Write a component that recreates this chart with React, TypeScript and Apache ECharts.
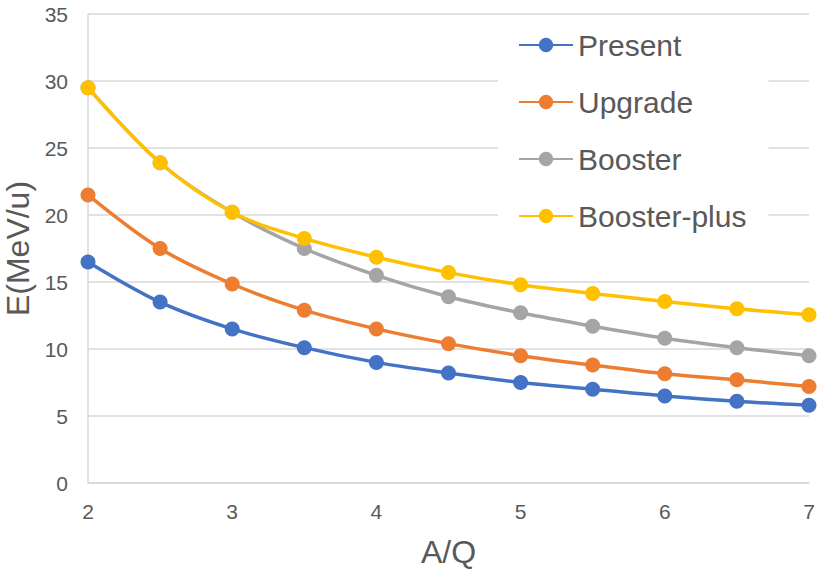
import React, { useEffect, useRef } from "react";
import * as echarts from "echarts";

const xValues = [2, 2.5, 3, 3.5, 4, 4.5, 5, 5.5, 6, 6.5, 7];
const present = [16.5, 13.5, 11.5, 10.1, 9.0, 8.2, 7.5, 7.0, 6.5, 6.1, 5.8];
const upgrade = [21.5, 17.5, 14.85, 12.9, 11.5, 10.4, 9.5, 8.8, 8.15, 7.7, 7.2];
const booster = [29.5, 23.9, 20.2, 17.5, 15.5, 13.9, 12.7, 11.7, 10.8, 10.1, 9.5];
const boosterPlus = [29.5, 23.9, 20.2, 18.25, 16.85, 15.7, 14.8, 14.15, 13.55, 13.0, 12.55];

const seriesNames = ["Present", "Upgrade", "Booster", "Booster-plus"];
const seriesColors = ["#4472C4", "#ED7D31", "#A5A5A5", "#FFC000"];
const seriesValues = [present, upgrade, booster, boosterPlus];

const FONT = "'Liberation Sans', Arial, sans-serif";

export default function App() {
  const ref = useRef<HTMLDivElement>(null);
  useEffect(() => {
    if (!ref.current) return;
    const chart = echarts.init(ref.current, undefined, { renderer: "svg" });
    chart.setOption({
      animation: false,
      backgroundColor: "#ffffff",
      textStyle: { fontFamily: FONT },
      grid: { left: 88, right: 11, top: 14, bottom: 94, containLabel: false, outerBoundsMode: "none" },
      legend: {
        data: seriesNames,
        orient: "vertical",
        left: 498,
        top: 20,
        padding: [10, 22, 10, 20],
        backgroundColor: "#ffffff",
        itemWidth: 54,
        itemHeight: 18,
        itemGap: 27,
        textStyle: { fontSize: 30, color: "#595959", fontFamily: FONT, lineHeight: 30, padding: [0, 0, 0, 0] },
      },
      xAxis: {
        type: "value",
        min: 2,
        max: 7,
        interval: 1,
        name: "A/Q",
        nameLocation: "middle",
        nameGap: 53,
        nameTextStyle: { fontSize: 32, color: "#595959", fontFamily: FONT },
        axisLine: { show: true, lineStyle: { color: "#D9D9D9", width: 1.5 } },
        axisTick: { show: false },
        axisLabel: { fontSize: 21, color: "#595959", margin: 18, fontFamily: FONT },
        splitLine: { show: false },
      },
      yAxis: {
        type: "value",
        min: 0,
        max: 35,
        interval: 5,
        name: "E(MeV/u)",
        nameLocation: "middle",
        nameGap: 52,
        nameTextStyle: { fontSize: 32, color: "#595959", fontFamily: FONT },
        axisLine: { show: true, lineStyle: { color: "#D9D9D9", width: 1.5 } },
        axisTick: { show: false },
        axisLabel: { fontSize: 21, color: "#595959", margin: 20, fontFamily: FONT },
        splitLine: { show: true, lineStyle: { color: "#D9D9D9", width: 1.5 } },
      },
      series: seriesNames.map((name, i) => ({
        name,
        type: "line",
        smooth: 0.35,
        data: xValues.map((x, j) => [x, seriesValues[i][j]]),
        symbol: "circle",
        symbolSize: 15,
        z: i === 2 ? 2 : i === 3 ? 3 : 4,
        itemStyle: { color: seriesColors[i] },
        lineStyle: { color: seriesColors[i], width: 3.5 },
      })),
    });
    return () => chart.dispose();
  }, []);
  return (
    <div
      ref={ref}
      style={{ position: "fixed", left: 0, top: 0, width: 820, height: 577 }}
    />
  );
}
